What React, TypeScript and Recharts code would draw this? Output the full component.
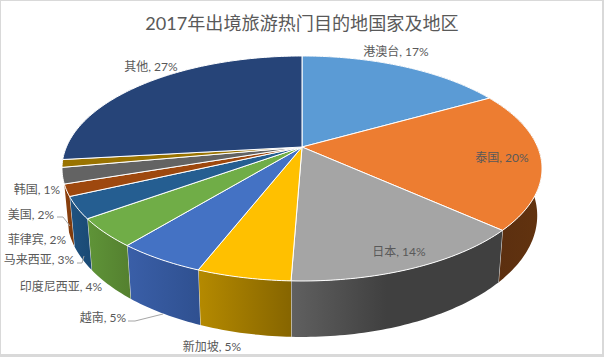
import { PieChart, Pie, Cell } from "recharts"

const chartTitle = "2017年出境旅游热门目的地国家及地区"

const places = ["港澳台", "泰国", "日本", "新加坡", "越南", "印度尼西亚", "马来西亚", "菲律宾", "美国", "韩国", "其他"]
const shares = [16.8, 19.9, 13.9, 5.3, 5.0, 4.1, 3.1, 1.7, 2.3, 1.1, 26.8]

const topColors = ["#5B9BD5", "#ED7D31", "#A5A5A5", "#FFC000", "#4472C4", "#70AD47", "#255E91", "#9E480E", "#636363", "#997300", "#264478"]
const wallLeft = ["#3a6c98", "#5a2e10", "#606060", "#b58a00", "#3a5fa8", "#5f9438", "#1f5280", "#8f420e", "#555555", "#806000", "#1f3864"]
const wallRight = ["#3a6c98", "#62330f", "#404040", "#866500", "#2f5090", "#54802f", "#1a4a74", "#7a380b", "#4a4a4a", "#705400", "#1f3864"]
// where the wall gradient reaches its dark end
const wallStops = [100, 100, 45, 100, 100, 100, 100, 100, 100, 100, 100]

// label centre x, text middle y
const labelSpots = [
  [396, 51], [502, 157], [399, 251], [212, 346], [103, 317], [61, 286],
  [39, 259], [37, 239], [31, 214], [37, 189], [151, 66],
]
// leader lines, only some labels have them
const leaders: Record<number, number[][]> = {
  4: [[128, 321], [135, 321], [163, 314]],
  6: [[77, 263], [82, 263], [84, 256]],
  8: [[57, 217], [63, 217], [70, 226]],
}

const data = places.map((name, i) => ({ name, value: shares[i] }))

// perspective of the pie disc, fitted from the picture
const apexX = 302
const apexY = 147
const radX = 235.6
const radY = 108.4
const tilt = 0.191

function topPoint(angle: number) {
  const t = ((90 - angle) * Math.PI) / 180
  const u = Math.sin(t)
  const v = -Math.cos(t)
  const w = 1 - tilt * v
  return [apexX + (radX * u) / w, apexY + (radY * v) / w]
}

function lowPoint(angle: number) {
  const [x, y] = topPoint(angle)
  return [apexX + (x - apexX) * 0.98, 192.5 + (y - apexY) * 1.078]
}

function arc(from: number, to: number, fn: (a: number) => number[]) {
  const n = Math.max(2, Math.ceil(Math.abs(to - from)))
  const pts: number[][] = []
  for (let i = 0; i <= n; i++) pts.push(fn(from + ((to - from) * i) / n))
  return pts
}

const toPath = (pts: number[][]) => pts.map((p, i) => `${i ? "L" : "M"}${p[0].toFixed(2)},${p[1].toFixed(2)}`).join(" ")

function TopFace(props: any) {
  const { startAngle, endAngle, fill } = props
  const pts = arc(startAngle, endAngle, topPoint)
  return <path d={`M${apexX},${apexY} ${toPath(pts).replace("M", "L")} Z`} fill={fill} stroke="#fff" strokeWidth={1} strokeLinejoin="round" />
}

function WallFace(props: any) {
  const { startAngle, endAngle, index } = props
  // walls of the last three slices sit behind the disc
  if (index > 7) return null
  const upper = arc(startAngle, endAngle, topPoint)
  const lower = arc(endAngle, startAngle, lowPoint)
  const id = `wall-${index}`
  return (
    <g>
      <defs>
        <linearGradient id={id} x1="0" y1="0" x2="1" y2="0">
          <stop offset="0%" stopColor={wallLeft[index]} />
          <stop offset={`${wallStops[index]}%`} stopColor={wallRight[index]} />
        </linearGradient>
      </defs>
      <path d={`${toPath(upper)} ${toPath(lower).replace("M", "L")} Z`} fill={`url(#${id})`} />
      {index < 7 && <path d={toPath([topPoint(endAngle), lowPoint(endAngle)])} stroke="#e8e8e8" strokeWidth={1} fill="none" />}
    </g>
  )
}

function renderLabel(props: any) {
  const { index, name, percent } = props
  const spot = labelSpots[index]
  const line = leaders[index]
  return (
    <g key={index}>
      {line && <polyline points={line.map((p) => p.join(",")).join(" ")} fill="none" stroke="#a6a6a6" strokeWidth={1} />}
      <text x={spot[0]} y={spot[1]} textAnchor="middle" dominantBaseline="central" fontSize={12} fill="#595959" fontFamily="Lato, 'Noto Sans CJK SC', sans-serif">
        {`${name}, ${Math.round(percent * 100)}%`}
      </text>
    </g>
  )
}

export default function App() {
  return (
    <div
      style={{
        position: "absolute",
        left: 0,
        top: 0,
        width: 604,
        height: 357,
        boxSizing: "border-box",
        background: "#fff",
        borderStyle: "solid",
        borderColor: "#d9d9d9",
        borderWidth: "1px 2px 3px 1px",
      }}
    >
      <div style={{ position: "absolute", left: -1, top: -1 }}>
        <PieChart width={601} height={353} margin={{ top: 0, right: 0, bottom: 0, left: 0 }}>
          <Pie
            data={data}
            dataKey="value"
            nameKey="name"
            cx={apexX}
            cy={apexY}
            outerRadius={100}
            startAngle={90}
            endAngle={-270}
            stroke="none"
            label={false}
            labelLine={false}
            shape={WallFace}
            isAnimationActive={false}
          >
            {places.map((p, i) => <Cell key={p} fill={wallLeft[i]} />)}
          </Pie>
          <Pie
            data={data}
            dataKey="value"
            nameKey="name"
            cx={apexX}
            cy={apexY}
            outerRadius={100}
            startAngle={90}
            endAngle={-270}
            label={renderLabel}
            labelLine={false}
            shape={TopFace}
            isAnimationActive={false}
          >
            {places.map((p, i) => <Cell key={p} fill={topColors[i]} />)}
          </Pie>
          <text x={302} y={23} textAnchor="middle" dominantBaseline="central" fontSize={18.1} fill="#595959" fontFamily="Lato, 'Noto Sans CJK SC', sans-serif">
            {chartTitle}
          </text>
        </PieChart>
      </div>
    </div>
  )
}
